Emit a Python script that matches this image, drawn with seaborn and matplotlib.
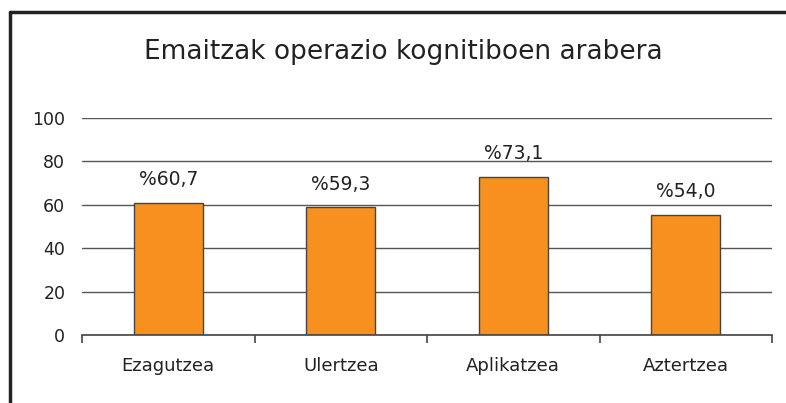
import matplotlib
matplotlib.use("Agg")
import matplotlib.pyplot as plt
import seaborn as sns
from matplotlib.lines import Line2D

categories = ["Ezagutzea", "Ulertzea", "Aplikatzea", "Aztertzea"]
values = [61.0, 58.8, 73.0, 55.2]
labels = ["%60,7", "%59,3", "%73,1", "%54,0"]
yticks = [0, 20, 40, 60, 80, 100]
title = "Emaitzak operazio kognitiboen arabera"

sns.set_style("white")
plt.rcParams['font.family'] = ['DejaVu Sans']

fig = plt.figure(figsize=(7.86, 4.03), dpi=100)
ax = fig.add_axes([82/786, 68/403, 690/786, 217/403])

for t in yticks:
    ax.axhline(t, color="#555555", lw=1.0, zorder=0)

sns.barplot(x=categories, y=values, color="#F7901E", width=0.4,
            edgecolor="#444444", linewidth=1.0, saturation=1, ax=ax, zorder=2)

for i, (v, lab) in enumerate(zip(values, labels)):
    ax.annotate(lab, (i, v), xytext=(0, 10), textcoords="offset points",
                ha="center", va="bottom", fontsize=13.5, color="#222222")

ax.set_ylim(0, 100)
ax.set_xlim(-0.5, 3.5)
ax.set_yticks(yticks)
ax.set_yticklabels([str(t) for t in yticks], fontsize=12.5, color="#222222")
ax.tick_params(axis="y", length=0, pad=12)

ax.set_xticks([-0.5, 0.5, 1.5, 2.5, 3.5])
ax.set_xticklabels([])
ax.tick_params(axis="x", which="major", bottom=True, length=6, width=1.2,
               color="#444444", direction="out")
ax.set_xticks(range(4), minor=True)
ax.set_xticklabels(categories, minor=True, fontsize=13, color="#222222")
ax.tick_params(axis="x", which="minor", bottom=True, length=0, pad=16)
ax.set_xlabel("")
ax.set_ylabel("")

for s in ["left", "right", "top"]:
    ax.spines[s].set_visible(False)
ax.spines["bottom"].set_color("#444444")
ax.spines["bottom"].set_linewidth(1.2)

fig.text(403/786, 1 - 52/403, title, ha="center", va="center", fontsize=19, color="#222222")

# outer frame (left and top visible)
fig.add_artist(Line2D([10/786, 10/786], [0, 1 - 12/403], transform=fig.transFigure,
                      color="#222222", lw=2.5))
fig.add_artist(Line2D([10/786, 1], [1 - 12/403, 1 - 12/403], transform=fig.transFigure,
                      color="#222222", lw=2.5))

fig.savefig("out.png", dpi=100)
